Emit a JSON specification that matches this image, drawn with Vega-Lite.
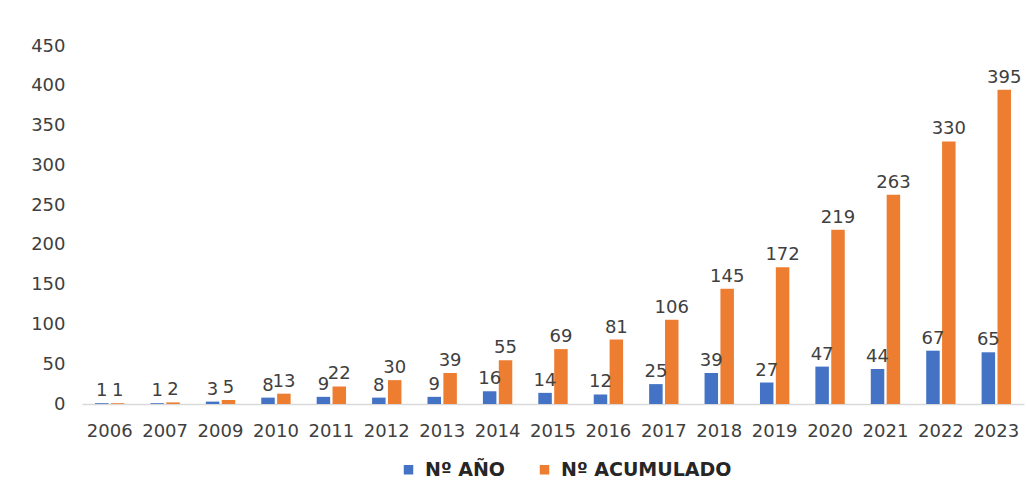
{
  "$schema": "https://vega.github.io/schema/vega-lite/v6.json",
  "width": 942,
  "height": 358,
  "autosize": {"type": "none"},
  "padding": {"left": 82, "top": 46, "right": 3, "bottom": 97},
  "background": "white",
  "config": {
    "view": {"stroke": null},
    "font": "DejaVu Sans"
  },
  "datasets": {
    "d": [
      {"anio": "2006", "serie": "Nº AÑO", "valor": 1},
      {"anio": "2006", "serie": "Nº ACUMULADO", "valor": 1},
      {"anio": "2007", "serie": "Nº AÑO", "valor": 1},
      {"anio": "2007", "serie": "Nº ACUMULADO", "valor": 2},
      {"anio": "2009", "serie": "Nº AÑO", "valor": 3},
      {"anio": "2009", "serie": "Nº ACUMULADO", "valor": 5},
      {"anio": "2010", "serie": "Nº AÑO", "valor": 8},
      {"anio": "2010", "serie": "Nº ACUMULADO", "valor": 13},
      {"anio": "2011", "serie": "Nº AÑO", "valor": 9},
      {"anio": "2011", "serie": "Nº ACUMULADO", "valor": 22},
      {"anio": "2012", "serie": "Nº AÑO", "valor": 8},
      {"anio": "2012", "serie": "Nº ACUMULADO", "valor": 30},
      {"anio": "2013", "serie": "Nº AÑO", "valor": 9},
      {"anio": "2013", "serie": "Nº ACUMULADO", "valor": 39},
      {"anio": "2014", "serie": "Nº AÑO", "valor": 16},
      {"anio": "2014", "serie": "Nº ACUMULADO", "valor": 55},
      {"anio": "2015", "serie": "Nº AÑO", "valor": 14},
      {"anio": "2015", "serie": "Nº ACUMULADO", "valor": 69},
      {"anio": "2016", "serie": "Nº AÑO", "valor": 12},
      {"anio": "2016", "serie": "Nº ACUMULADO", "valor": 81},
      {"anio": "2017", "serie": "Nº AÑO", "valor": 25},
      {"anio": "2017", "serie": "Nº ACUMULADO", "valor": 106},
      {"anio": "2018", "serie": "Nº AÑO", "valor": 39},
      {"anio": "2018", "serie": "Nº ACUMULADO", "valor": 145},
      {"anio": "2019", "serie": "Nº AÑO", "valor": 27},
      {"anio": "2019", "serie": "Nº ACUMULADO", "valor": 172},
      {"anio": "2020", "serie": "Nº AÑO", "valor": 47},
      {"anio": "2020", "serie": "Nº ACUMULADO", "valor": 219},
      {"anio": "2021", "serie": "Nº AÑO", "valor": 44},
      {"anio": "2021", "serie": "Nº ACUMULADO", "valor": 263},
      {"anio": "2022", "serie": "Nº AÑO", "valor": 67},
      {"anio": "2022", "serie": "Nº ACUMULADO", "valor": 330},
      {"anio": "2023", "serie": "Nº AÑO", "valor": 65},
      {"anio": "2023", "serie": "Nº ACUMULADO", "valor": 395}
    ]
  },
  "data": {"name": "d"},
  "encoding": {
    "x": {
      "field": "anio",
      "type": "nominal",
      "scale": {"paddingInner": 0.47, "paddingOuter": 0.235},
      "axis": {
        "title": null,
        "labelAngle": 0,
        "labelFontSize": 18,
        "labelColor": "#404040",
        "labelPadding": 18,
        "ticks": false,
        "domainColor": "#d9d9d9",
        "domainWidth": 1.5
      }
    },
    "xOffset": {
      "field": "serie",
      "type": "nominal",
      "sort": ["Nº AÑO", "Nº ACUMULADO"],
      "scale": {"paddingInner": 0.15, "paddingOuter": 0}
    },
    "y": {
      "field": "valor",
      "type": "quantitative",
      "scale": {"domain": [0, 450], "nice": false},
      "axis": {
        "title": null,
        "values": [0, 50, 100, 150, 200, 250, 300, 350, 400, 450],
        "grid": false,
        "domain": false,
        "ticks": false,
        "labelFontSize": 18,
        "labelColor": "#404040",
        "labelPadding": 17
      }
    }
  },
  "layer": [
    {
      "mark": {"type": "bar"},
      "encoding": {
        "color": {
          "field": "serie",
          "type": "nominal",
          "sort": ["Nº AÑO", "Nº ACUMULADO"],
          "scale": {"domain": ["Nº AÑO", "Nº ACUMULADO"], "range": ["#4472C4", "#ED7D31"]},
          "legend": {
            "title": null,
            "orient": "none",
            "legendX": 317,
            "legendY": 414,
            "direction": "horizontal",
            "symbolType": "square",
            "symbolSize": 90,
            "symbolStrokeWidth": 0,
            "labelFontSize": 19,
            "labelColor": "#262626",
            "labelFontWeight": "bold",
            "labelOffset": 7,
            "labelLimit": 400,
            "columnPadding": 30
          }
        }
      }
    },
    {
      "mark": {"type": "text", "baseline": "bottom", "dy": -3, "fontSize": 18, "color": "#404040"},
      "encoding": {
        "text": {"field": "valor", "type": "quantitative"}
      }
    }
  ]
}
